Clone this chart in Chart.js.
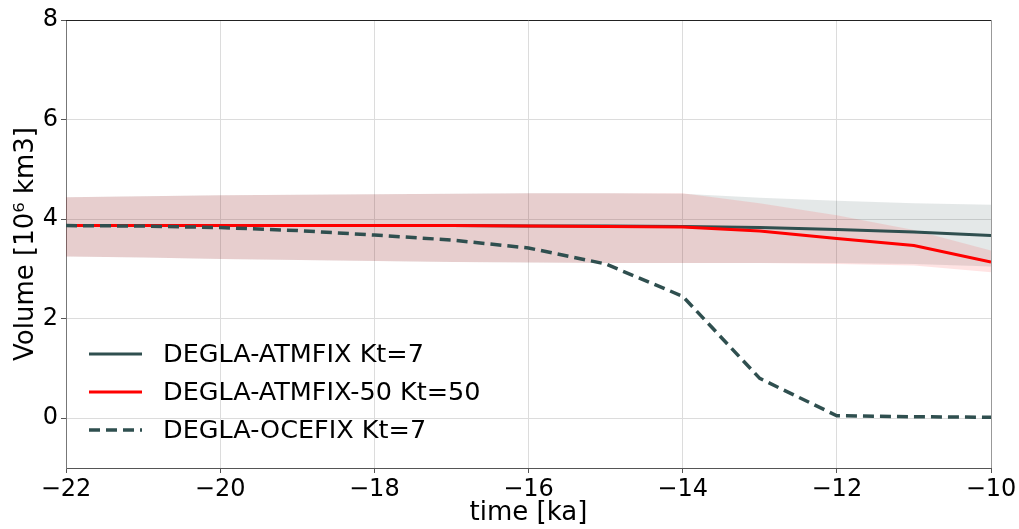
<!DOCTYPE html>
<html>
<head>
<meta charset="utf-8">
<title>Ice volume</title>
<script src="https://cdn.jsdelivr.net/npm/chart.js@4.4.0/dist/chart.umd.min.js"></script>
<style>
  html, body { margin: 0; padding: 0; background: #fff; }
  #wrap { width: 1019px; height: 529px; }
</style>
</head>
<body>
<div id="wrap"><canvas id="chart" width="1019" height="529"></canvas></div>
<script>
// time axis (ka) and tick values
const years = [-22, -21, -20, -19, -18, -17, -16, -15, -14, -13, -12, -11, -10];
const xTicks = [-22, -20, -18, -16, -14, -12, -10];
const yTicks = [0, 2, 4, 6, 8];

// series values, 10^6 km3
const atmfix    = [3.87, 3.87, 3.87, 3.87, 3.87, 3.87, 3.86, 3.86, 3.85, 3.83, 3.79, 3.74, 3.67];
const atmfix50  = [3.87, 3.87, 3.87, 3.87, 3.87, 3.87, 3.86, 3.85, 3.84, 3.76, 3.61, 3.47, 3.14];
const ocefix    = [3.87, 3.86, 3.83, 3.77, 3.68, 3.58, 3.42, 3.10, 2.45, 0.80, 0.05, 0.03, 0.02];

// spread bands
const atmfixHi   = [4.44, 4.46, 4.48, 4.49, 4.50, 4.51, 4.52, 4.52, 4.51, 4.43, 4.37, 4.32, 4.29];
const atmfixLo   = [3.25, 3.23, 3.20, 3.18, 3.16, 3.14, 3.13, 3.12, 3.12, 3.12, 3.12, 3.10, 3.05];
const atmfix50Hi = [4.44, 4.46, 4.48, 4.49, 4.50, 4.51, 4.52, 4.52, 4.52, 4.32, 4.08, 3.78, 3.37];
const atmfix50Lo = [3.25, 3.23, 3.20, 3.18, 3.16, 3.14, 3.13, 3.12, 3.12, 3.12, 3.10, 3.07, 2.93];

const DARK = '#2f4f4f';
const RED = '#ff0000';

Chart.defaults.font.family = "'DejaVu Sans', sans-serif";
Chart.defaults.color = '#000';

const xy = arr => arr.map((v, i) => ({ x: years[i], y: v }));
const minus = v => (v < 0 ? '\u2212' + Math.abs(v) : String(v));

function band(values, fillColor, order, fill) {
    return {
        data: xy(values),
        borderWidth: 0,
        pointRadius: 0,
        backgroundColor: fillColor,
        fill: fill,
        order: order,
        isBand: true
    };
}

// frame around the plot area (matplotlib box)
const framePlugin = {
    id: 'frame',
    afterDraw(chart) {
        const { ctx, chartArea: a } = chart;
        ctx.save();
        ctx.lineWidth = 1;
        ctx.strokeStyle = '#222';
        ctx.beginPath();
        ctx.moveTo(a.left, a.top + 0.5);
        ctx.lineTo(a.right, a.top + 0.5);
        ctx.stroke();
        ctx.strokeStyle = '#999';
        ctx.beginPath();
        ctx.moveTo(a.right + 0.5, a.top);
        ctx.lineTo(a.right + 0.5, a.bottom);
        ctx.stroke();
        ctx.restore();
    }
};

// legend drawn inside the plot, lower left
const legendPlugin = {
    id: 'insideLegend',
    afterDraw(chart) {
        const { ctx, chartArea: a } = chart;
        const items = chart.data.datasets.filter(d => !d.isBand);
        const rowGap = 38;
        ctx.save();
        ctx.font = "25.5px 'DejaVu Sans'";
        ctx.textBaseline = 'middle';
        items.forEach((d, i) => {
            const y = a.bottom - 114 + i * rowGap;
            const x0 = a.left + 23;
            ctx.strokeStyle = d.borderColor;
            ctx.lineWidth = d.borderWidth;
            ctx.setLineDash(d.borderDash || []);
            ctx.beginPath();
            ctx.moveTo(x0, y);
            ctx.lineTo(x0 + 53, y);
            ctx.stroke();
            ctx.setLineDash([]);
            ctx.fillStyle = '#000';
            ctx.fillText(d.label, x0 + 74, y + 1);
        });
        ctx.restore();
    }
};

new Chart(document.getElementById('chart'), {
    type: 'line',
    data: {
        datasets: [
            {
                label: 'DEGLA-ATMFIX Kt=7',
                data: xy(atmfix),
                borderColor: DARK,
                borderWidth: 3,
                pointRadius: 0,
                fill: false,
                order: 3
            },
            {
                label: 'DEGLA-ATMFIX-50 Kt=50',
                data: xy(atmfix50),
                borderColor: RED,
                borderWidth: 3,
                pointRadius: 0,
                fill: false,
                order: 2
            },
            {
                label: 'DEGLA-OCEFIX Kt=7',
                data: xy(ocefix),
                borderColor: DARK,
                borderWidth: 3.5,
                borderDash: [11, 6],
                pointRadius: 0,
                fill: false,
                order: 1
            },
            band(atmfixHi, 'rgba(47, 79, 79, 0.13)', 11, false),
            band(atmfixLo, 'rgba(47, 79, 79, 0.13)', 10, '-1'),
            band(atmfix50Hi, 'rgba(255, 0, 0, 0.11)', 9, false),
            band(atmfix50Lo, 'rgba(255, 0, 0, 0.11)', 8, '-1')
        ]
    },
    options: {
        responsive: false,
        animation: false,
        layout: { padding: { top: 20, right: 28, left: 0, bottom: 0 } },
        plugins: {
            legend: { display: false },
            tooltip: { enabled: false }
        },
        scales: {
            x: {
                type: 'linear',
                min: -22,
                max: -10,
                afterFit: s => { s.height = 61; },
                afterBuildTicks: s => { s.ticks = xTicks.map(v => ({ value: v })); },
                ticks: {
                    font: { size: 24 },
                    padding: 2,
                    maxRotation: 0,
                    callback: v => minus(v)
                },
                grid: { color: '#dcdcdc', tickColor: '#555', tickLength: 5 },
                border: { color: '#555' },
                title: {
                    display: true,
                    text: 'time [ka]',
                    font: { size: 26 },
                    padding: { top: 0, bottom: 0 }
                }
            },
            y: {
                type: 'linear',
                min: -1,
                max: 8,
                afterFit: s => { s.width = 66; },
                afterBuildTicks: s => { s.ticks = yTicks.map(v => ({ value: v })); },
                ticks: {
                    font: { size: 24 },
                    padding: 3,
                    callback: v => minus(v)
                },
                grid: { color: '#dcdcdc', tickColor: '#555', tickLength: 5 },
                border: { color: '#777' },
                title: {
                    display: true,
                    text: 'Volume [10\u2076 km3]',
                    font: { size: 26 },
                    padding: { top: 11, bottom: 0 }
                }
            }
        }
    },
    plugins: [framePlugin, legendPlugin]
});
</script>
</body>
</html>
